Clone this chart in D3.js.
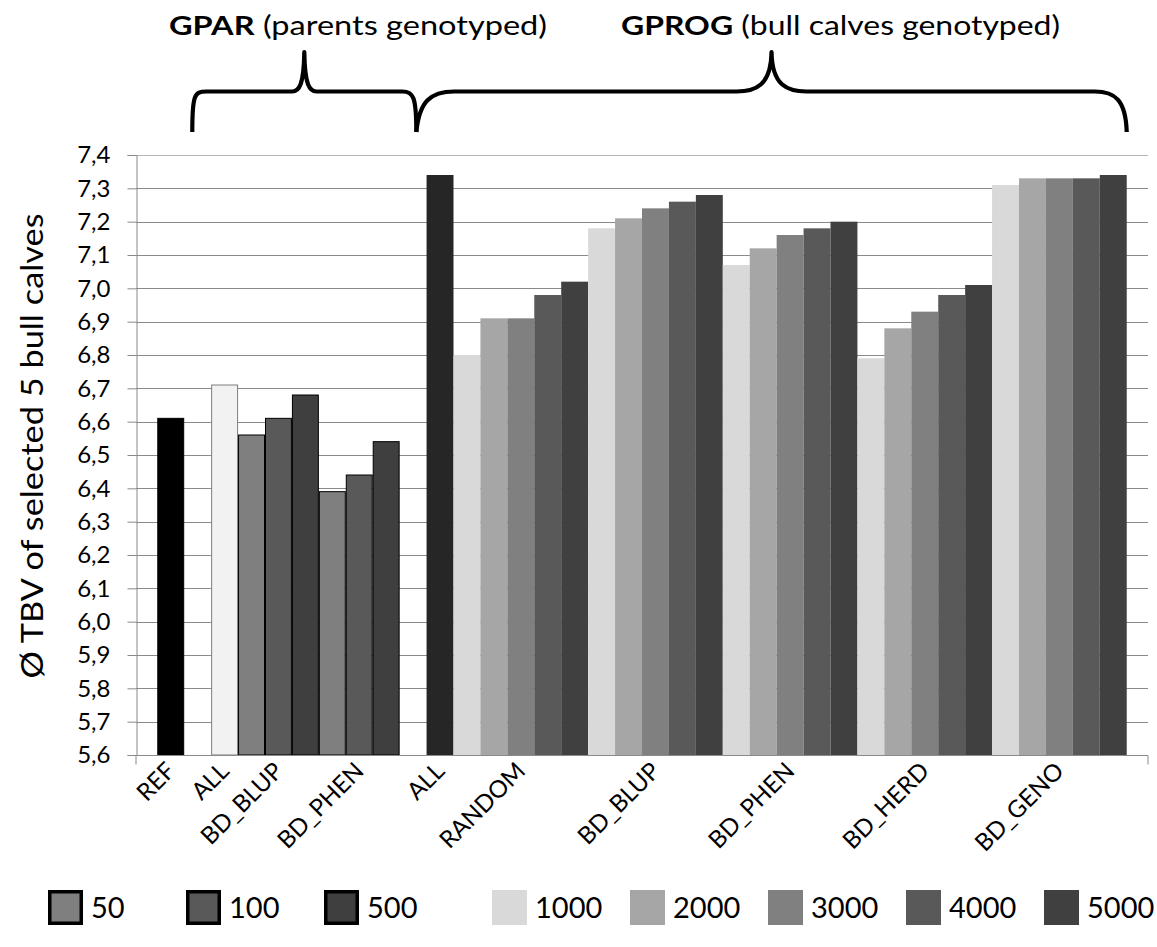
<!DOCTYPE html>
<html>
<head>
<meta charset="utf-8">
<script src="https://cdn.jsdelivr.net/npm/d3@7"></script>
<style>
  body { margin: 0; background: #fff; }
  svg { display: block; }
  text { font-family: Lato, "Open Sans", sans-serif; fill: #000; }
</style>
</head>
<body>
<svg id="chart" width="1157" height="947"></svg>
<script>
// ---------------- DATA ----------------
const categories = ["REF", "ALL", "BD_BLUP", "BD_PHEN", "ALL", "RANDOM", "BD_BLUP", "BD_PHEN", "BD_HERD", "BD_GENO"];
const categorySection = ["GPAR", "GPAR", "GPAR", "GPAR", "GPROG", "GPROG", "GPROG", "GPROG", "GPROG", "GPROG"];
const sectionTitles = ["GPAR", "GPROG"];
const sectionSubtitles = [" (parents genotyped)", " (bull calves genotyped)"];

const gparSeries = ["50", "100", "500"];
const gprogSeries = ["1000", "2000", "3000", "4000", "5000"];
const legendLabels = ["50", "100", "500", "1000", "2000", "3000", "4000", "5000"];

const refValues = [6.61];
const gparAllValues = [6.71];
const gparBlupValues = [6.56, 6.61, 6.68];
const gparPhenValues = [6.39, 6.44, 6.54];
const gprogAllValues = [7.34];
const gprogRandomValues = [6.80, 6.91, 6.91, 6.98, 7.02];
const gprogBlupValues = [7.18, 7.21, 7.24, 7.26, 7.28];
const gprogPhenValues = [7.07, 7.12, 7.16, 7.18, 7.20];
const gprogHerdValues = [6.79, 6.88, 6.93, 6.98, 7.01];
const gprogGenoValues = [7.31, 7.33, 7.33, 7.33, 7.34];

const yTickValues = [5.6, 5.7, 5.8, 5.9, 6.0, 6.1, 6.2, 6.3, 6.4, 6.5, 6.6, 6.7, 6.8, 6.9, 7.0, 7.1, 7.2, 7.3, 7.4];
const yTitle = "Ø TBV of selected 5 bull calves";

// -------------- STYLES --------------
const fills = {
  "REF": "#000000", "ALL_GPAR": "#f2f2f2", "ALL_GPROG": "#262626",
  "50": "#7f7f7f", "100": "#595959", "500": "#3f3f3f",
  "1000": "#d9d9d9", "2000": "#a6a6a6", "3000": "#808080", "4000": "#595959", "5000": "#404040"
};
const strokes = { "REF": "#000", "ALL_GPAR": "#7f7f7f", "50": "#000", "100": "#000", "500": "#000" };

// -------------- BUILD TABLE --------------
const seriesPerCategory = [
  ["REF"], ["ALL_GPAR"], gparSeries, gparSeries,
  ["ALL_GPROG"], gprogSeries, gprogSeries, gprogSeries, gprogSeries, gprogSeries
];
const valuesPerCategory = [
  refValues, gparAllValues, gparBlupValues, gparPhenValues,
  gprogAllValues, gprogRandomValues, gprogBlupValues, gprogPhenValues, gprogHerdValues, gprogGenoValues
];
const gapAfterCategory = [0, 3];

const bars = [];
const slots = [];
const catCenterSlot = [];
categories.forEach((c, ci) => {
  const ser = seriesPerCategory[ci];
  const vals = valuesPerCategory[ci];
  const first = slots.length;
  ser.forEach((s, si) => {
    const key = "c" + ci + "_" + si;
    slots.push(key);
    bars.push({ slot: key, series: s, value: vals[si], cat: ci });
  });
  catCenterSlot.push(slots[first + Math.floor(ser.length / 2)]);
  if (gapAfterCategory.includes(ci)) slots.push("gap" + ci);
});

// -------------- LAYOUT --------------
const svg = d3.select("#chart");
const plotLeft = 136, plotRight = 1148, plotTop = 155, plotBottom = 755;

const x = d3.scaleBand().domain(slots).range([plotLeft, plotRight]).paddingInner(0).paddingOuter(0.79);
const y = d3.scaleLinear().domain([5.6, 7.4]).range([plotBottom, plotTop]);
const bw = x.bandwidth();

// gridlines
svg.append("g").selectAll("line").data(yTickValues).join("line")
  .attr("x1", plotLeft).attr("x2", plotRight)
  .attr("y1", d => Math.round(y(d)) + 0.5).attr("y2", d => Math.round(y(d)) + 0.5)
  .attr("stroke", (d, i) => i === yTickValues.length - 1 ? "#b5b5b5" : "#8a8a8a")
  .attr("stroke-width", 1);

// bars
svg.append("g").selectAll("rect").data(bars).join("rect")
  .attr("x", d => x(d.slot) + (strokes[d.series] ? 0.5 : 0))
  .attr("width", d => bw - (strokes[d.series] ? 1 : 0))
  .attr("y", d => y(d.value))
  .attr("height", d => y(5.6) - y(d.value))
  .attr("fill", d => fills[d.series])
  .attr("stroke", d => strokes[d.series] || "none")
  .attr("stroke-width", 1);

// y axis
const yAxis = d3.axisLeft(y).tickValues(yTickValues).tickSize(9).tickPadding(17)
  .tickFormat(d => d3.format(".1f")(d).replace(".", ","));
const gy = svg.append("g").attr("transform", `translate(${plotLeft + 0.5},0)`).call(yAxis);
gy.select(".domain").attr("stroke", "#8a8a8a");
gy.selectAll(".tick line").attr("stroke", "#8a8a8a");
gy.selectAll(".tick text").style("font-size", "24px").attr("fill", "#000");

// x axis
const xAxis = d3.axisBottom(x).tickValues(catCenterSlot).tickSize(0)
  .tickFormat(s => categories[catCenterSlot.indexOf(s)]);
const gx = svg.append("g").attr("transform", `translate(0,${plotBottom + 0.5})`).call(xAxis);
gx.select(".domain").attr("stroke", "#8a8a8a").attr("d", `M${plotLeft},9V0H${plotRight}V9`);
gx.selectAll(".tick text")
  .style("font-size", "24px").attr("fill", "#000")
  .attr("x", 0).attr("y", 0).attr("dy", "0.35em")
  .attr("transform", "translate(0,11) rotate(-45)")
  .style("text-anchor", "end");

// y title
svg.append("text")
  .attr("transform", `translate(43,${(plotTop + plotBottom) / 2 - 9}) rotate(-90)`)
  .attr("text-anchor", "middle")
  .attr("textLength", 465).attr("lengthAdjust", "spacingAndGlyphs")
  .style("font-size", "30px")
  .text(yTitle);

// braces
function bracePath(x0, x1, cuspHalf, endL, endR, yB, yL, yP) {
  const xm = (x0 + x1) / 2;
  return `M${x0},${yB}` +
    endL(x0) +
    `L${xm - cuspHalf},${yL}` +
    `C${xm - cuspHalf * 0.45},${yL} ${xm - 0.5},${yL - 6} ${xm},${yP}` +
    `C${xm + 0.5},${yL - 6} ${xm + cuspHalf * 0.45},${yL} ${xm + cuspHalf},${yL}` +
    endR(x1);
}
const yB = 132, yL = 91.5, yP = 52;
const gparX0 = x("gap0") + bw * 0.3;
const split = x("gap3") + bw * 0.62;
const gprogX1 = x(slots[slots.length - 1]) + bw;

const braces = svg.append("g").attr("fill", "none").attr("stroke", "#000").attr("stroke-width", 4.2)
  .attr("stroke-linejoin", "round");
braces.append("path").attr("d", bracePath(gparX0, split, 12,
  a => `C${a},${yL + 4} ${a + 2},${yL} ${a + 14},${yL}`,
  b => `L${b - 14},${yL}C${b - 3},${yL} ${b},${yL + 5} ${b},${yB}`,
  yB, yL, yP));
braces.append("path").attr("d", bracePath(split, gprogX1, 35,
  a => `C${a + 3},${yL + 10} ${a + 14},${yL} ${a + 38},${yL}`,
  b => `L${b - 32},${yL}C${b - 12},${yL} ${b - 1},${yL + 8} ${b},${yB}`,
  yB, yL, yP));

// section titles
const titleX = [169, 621];
const titleLen = [378, 439];
sectionTitles.forEach((t, i) => {
  const tx = svg.append("text").attr("x", titleX[i]).attr("y", 35)
    .style("font-size", "26px").style("white-space", "pre")
    .attr("textLength", titleLen[i]).attr("lengthAdjust", "spacingAndGlyphs");
  tx.append("tspan").style("font-weight", "bold").text(t);
  tx.append("tspan").text(sectionSubtitles[i]);
});

// legend
const legendFills = legendLabels.map(l => fills[l]);
const sq = 35;
const lg = svg.append("g").selectAll("g").data(legendLabels).join("g")
  .attr("transform", (d, i) => `translate(${48 + i * 138 + (i >= gparSeries.length ? 30 : 0)},890)`);
lg.append("rect")
  .attr("x", (d, i) => i < gparSeries.length ? 1.75 : 0)
  .attr("y", (d, i) => i < gparSeries.length ? 1.75 : 0)
  .attr("width", (d, i) => i < gparSeries.length ? sq - 3.5 : sq)
  .attr("height", (d, i) => i < gparSeries.length ? sq - 3.5 : sq)
  .attr("fill", (d, i) => legendFills[i])
  .attr("stroke", (d, i) => i < gparSeries.length ? "#000" : "none")
  .attr("stroke-width", 3.5);
lg.append("text").attr("x", sq + 8).attr("y", sq / 2).attr("dy", "0.36em")
  .style("font-size", "29px").text(d => d);
</script>
</body>
</html>
